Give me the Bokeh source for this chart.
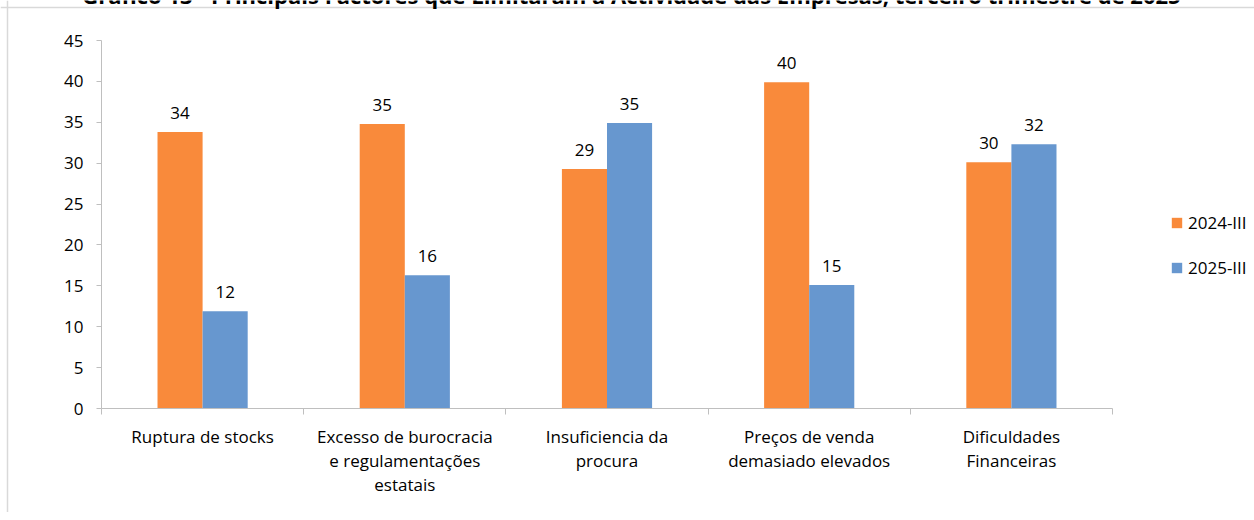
import numpy as np
from bokeh.plotting import figure
from bokeh.models import (Range1d, FixedTicker, ColumnDataSource, Legend, LegendItem,
                          Label, LinearAxis, Span)
from bokeh.embed import file_html
from bokeh.resources import INLINE
from bokeh.core.properties import value

title_text = "Gráfico 13 - Principais Factores que Limitaram a Actividade das Empresas, terceiro trimestre de 2025"
categories = ["Ruptura de stocks",
              "Excesso de burocracia\ne regulamentações\nestatais",
              "Insuficiencia da\nprocura",
              "Preços de venda\ndemasiado elevados",
              "Dificuldades\nFinanceiras"]
series_names = ["2024-III", "2025-III"]
values_2024 = [33.8, 34.8, 29.3, 39.9, 30.1]
values_2025 = [11.9, 16.3, 34.9, 15.1, 32.3]
y_ticks = [0, 5, 10, 15, 20, 25, 30, 35, 40, 45]
y_max = 45

FONT = "Open Sans"
ORANGE = "#F98A3B"
BLUE = "#6797CF"
GRAY = "#BFBFBF"
BW = 0.223

# pixel layout of the plotting area inside the canvas
W, H = 1254, 512
AX_LEFT, AX_RIGHT, AX_TOP, AX_BOTTOM = 101, 1112, 40, 408

n = len(categories)
idx = np.arange(n)
centers = idx + 0.5
sx = (AX_RIGHT - AX_LEFT) / n          # px per category
sy = (AX_BOTTOM - AX_TOP) / y_max      # px per unit

# the frame covers the whole canvas; axes are pinned with fixed_location
p = figure(width=W, height=H, output_backend="svg", toolbar_location=None,
           x_range=Range1d(-AX_LEFT / sx, (W - AX_LEFT) / sx),
           y_range=Range1d(-(H - AX_BOTTOM) / sy, AX_BOTTOM / sy),
           min_border=0, x_axis_type=None, y_axis_type=None)
p.outline_line_color = None
p.xgrid.visible = False
p.ygrid.visible = False
p.background_fill_color = "white"
p.border_fill_color = "white"

src1 = ColumnDataSource(dict(x=centers - BW / 2, top=values_2024,
                             lab=[f"{v:.0f}" for v in values_2024]))
src2 = ColumnDataSource(dict(x=centers + BW / 2, top=values_2025,
                             lab=[f"{v:.0f}" for v in values_2025]))

r1 = p.vbar(x="x", top="top", bottom=0, width=BW, source=src1, fill_color=ORANGE, line_color=None)
r2 = p.vbar(x="x", top="top", bottom=0, width=BW, source=src2, fill_color=BLUE, line_color=None)

for s in (src1, src2):
    p.text(x="x", y="top", text="lab", source=s, y_offset=-19, text_align="center",
           text_baseline="alphabetic", text_font=value(FONT), text_font_size="17px", text_color="#000000")

# axes
xaxis = LinearAxis(ticker=FixedTicker(ticks=list(centers), minor_ticks=list(range(n + 1))),
                   bounds=(0, n), fixed_location=0)
xaxis.major_label_overrides = {float(c): categories[i] for i, c in enumerate(centers)}
xaxis.axis_line_color = GRAY
xaxis.major_tick_line_color = None
xaxis.major_tick_out = 0
xaxis.major_tick_in = 0
xaxis.minor_tick_line_color = GRAY
xaxis.minor_tick_out = 6
xaxis.minor_tick_in = 0
xaxis.major_label_standoff = 10
xaxis.major_label_text_font = FONT
xaxis.major_label_text_font_size = "17px"
xaxis.major_label_text_color = "#000000"
xaxis.major_label_text_line_height = 1.06
p.add_layout(xaxis, "below")

yaxis = LinearAxis(ticker=FixedTicker(ticks=y_ticks), bounds=(0, y_max), fixed_location=0)
yaxis.axis_line_color = GRAY
yaxis.major_tick_line_color = GRAY
yaxis.major_tick_out = 5
yaxis.major_tick_in = 0
yaxis.minor_tick_line_color = None
yaxis.major_label_standoff = 13
yaxis.major_label_text_font = FONT
yaxis.major_label_text_font_size = "17px"
yaxis.major_label_text_color = "#000000"
p.add_layout(yaxis, "left")

legend = Legend(items=[LegendItem(label=series_names[0], renderers=[r1]),
                       LegendItem(label=series_names[1], renderers=[r2])],
                location=(1170, H - 279), padding=0, margin=0, border_line_color=None,
                background_fill_alpha=0, glyph_width=13, glyph_height=13,
                label_height=20, spacing=22, label_standoff=5,
                label_text_font=FONT, label_text_font_size="17px", label_text_color="#000000")
p.add_layout(legend, "center")

# light grey chart-area border (left and top edges visible)
p.add_layout(Span(location=(7 - AX_LEFT) / sx, dimension="height",
                  line_color="#D9D9D9", line_width=1.5, level="underlay"))
p.add_layout(Span(location=(AX_BOTTOM - 7) / sy, dimension="width",
                  line_color="#D9D9D9", line_width=1.5, level="underlay"))

# chart title (cut off at the top, as in the source image)
p.add_layout(Label(x=631, y=H + 6, x_units="screen", y_units="screen", text=title_text,
                   text_align="center", text_baseline="alphabetic", text_font=FONT,
                   text_font_size="22px", text_font_style="bold", text_color="#000000"))

open("out.html", "w").write(file_html(p, INLINE))
